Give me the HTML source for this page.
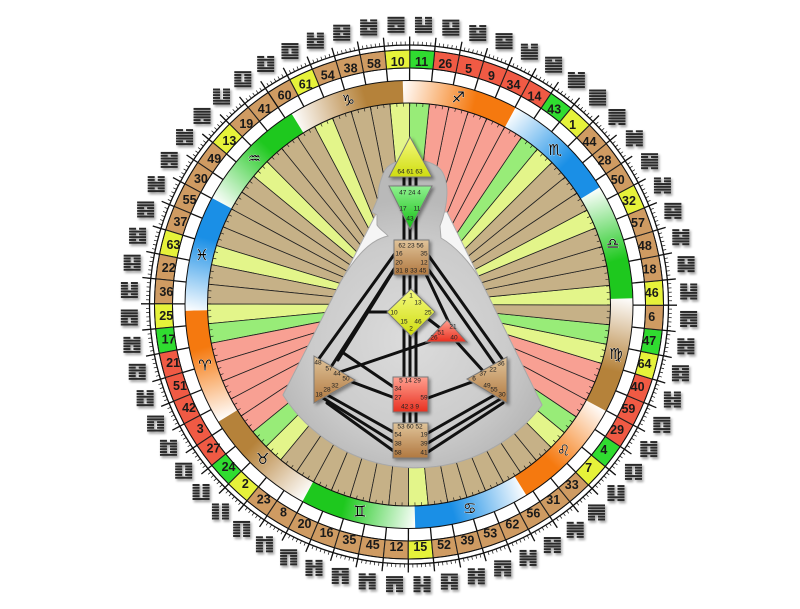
<!DOCTYPE html>
<html><head><meta charset="utf-8">
<style>
html,body{margin:0;padding:0;background:#fff;}
svg{display:block;}
.wB{fill:#c6b187}.wY{fill:#e3f58a}.wG{fill:#98ec78}.wR{fill:#f8a093}
.cB{fill:#cf9b62}.cY{fill:#e6f23a}.cG{fill:#30dc30}.cR{fill:#f05a44}
.w{stroke:#222;stroke-width:.8}
.c{stroke:#222;stroke-width:.9}
.n{font-family:"Liberation Sans",sans-serif;font-weight:bold;font-size:12.5px;fill:#1a1a1a;text-anchor:middle;dominant-baseline:central}
.z{font-family:"DejaVu Sans",sans-serif;font-size:15px;fill:#000;text-anchor:middle;dominant-baseline:central;stroke:#fff;stroke-width:.6;paint-order:stroke}
.b{font-family:"Liberation Sans",sans-serif;font-size:6.5px;fill:#222;text-anchor:middle;dominant-baseline:central}
.ch{stroke:#111;stroke-width:3;stroke-linecap:round;fill:none}
</style></head><body>
<svg width="800" height="609" viewBox="0 0 800 609" xmlns="http://www.w3.org/2000/svg">
<defs>
<path id="w" class="w" d="M409,304.5 L399.11,103.24 A201.5,201.5 0 0,1 418.89,103.24 Z"/>
<path id="c" class="c" d="M396.51,50.31 A254.5,254.5 0 0,1 421.49,50.31 L420.6,68.28 A236.5,236.5 0 0,0 397.4,68.28 Z"/>
<line id="s" x1="398.01" y1="80.77" x2="395.85" y2="36.82" stroke="#111" stroke-width="1.3"/>
<rect id="ya" width="17" height="2" fill="#2a2a2a"/>
<g id="yi" fill="#2a2a2a"><rect width="7" height="2"/><rect x="10" width="7" height="2"/></g>
<g id="tQ"><use href="#ya"/><use href="#ya" y="2.8"/><use href="#ya" y="5.6"/></g>
<g id="tD"><use href="#yi"/><use href="#ya" y="2.8"/><use href="#ya" y="5.6"/></g>
<g id="tL"><use href="#ya"/><use href="#yi" y="2.8"/><use href="#ya" y="5.6"/></g>
<g id="tZ"><use href="#yi"/><use href="#yi" y="2.8"/><use href="#ya" y="5.6"/></g>
<g id="tX"><use href="#ya"/><use href="#ya" y="2.8"/><use href="#yi" y="5.6"/></g>
<g id="tK"><use href="#yi"/><use href="#ya" y="2.8"/><use href="#yi" y="5.6"/></g>
<g id="tG"><use href="#ya"/><use href="#yi" y="2.8"/><use href="#yi" y="5.6"/></g>
<g id="tN"><use href="#yi"/><use href="#yi" y="2.8"/><use href="#yi" y="5.6"/></g>
<filter id="hs" x="-50%" y="-50%" width="200%" height="200%"><feDropShadow dx="1.5" dy="2" stdDeviation="1.3" flood-color="#000" flood-opacity=".45"/></filter>
<filter id="cs" x="-30%" y="-30%" width="160%" height="160%"><feDropShadow dx="2" dy="2" stdDeviation="1.5" flood-color="#000" flood-opacity=".4"/></filter>
<linearGradient id="zF" gradientUnits="userSpaceOnUse" x1="351" y1="0" x2="467" y2="0"><stop offset="0" stop-color="#fff"/><stop offset=".65" stop-color="#f5790f"/></linearGradient>
<linearGradient id="zE" gradientUnits="userSpaceOnUse" x1="351" y1="0" x2="467" y2="0"><stop offset="0" stop-color="#fff"/><stop offset=".65" stop-color="#b5823a"/></linearGradient>
<linearGradient id="zA" gradientUnits="userSpaceOnUse" x1="351" y1="0" x2="467" y2="0"><stop offset="0" stop-color="#fff"/><stop offset=".65" stop-color="#1ec81e"/></linearGradient>
<linearGradient id="zW" gradientUnits="userSpaceOnUse" x1="351" y1="0" x2="467" y2="0"><stop offset="0" stop-color="#fff"/><stop offset=".65" stop-color="#1a8fe6"/></linearGradient>
<path id="zs" d="M351.02,88.13 A224,224 0 0,1 466.98,88.13 L461.15,109.87 A201.5,201.5 0 0,0 356.85,109.87 Z"/>
<radialGradient id="body" cx="410" cy="340" r="140" gradientUnits="userSpaceOnUse"><stop offset="0" stop-color="#dcdcdc"/><stop offset=".7" stop-color="#cbcbcb"/><stop offset="1" stop-color="#b9b9b9"/></radialGradient>
<linearGradient id="gY" x1="0" y1="0" x2="0" y2="1"><stop offset="0" stop-color="#f4fa80"/><stop offset="1" stop-color="#cfdc10"/></linearGradient>
<linearGradient id="gG" x1="0" y1="0" x2="0" y2="1"><stop offset="0" stop-color="#90f090"/><stop offset="1" stop-color="#12c012"/></linearGradient>
<linearGradient id="gB" x1="0" y1="0" x2="0" y2="1"><stop offset="0" stop-color="#e0c49a"/><stop offset="1" stop-color="#b07840"/></linearGradient>
<linearGradient id="gR" x1="0" y1="0" x2="0" y2="1"><stop offset="0" stop-color="#ffa090"/><stop offset="1" stop-color="#e83020"/></linearGradient>
</defs>
<rect width="800" height="609" fill="#fff"/>

<!-- gates -->
<g transform="rotate(-36.4125 409 304.5)"><use href="#w" class="wB"/><use href="#c" class="cB"/><use href="#s"/><text class="n" transform="rotate(36.4125 409 61.5)" x="409" y="61.5">41</text><g transform="rotate(36.4125 409 24.5)" filter="url(#hs)"><use href="#tG" x="400.5" y="16.5"/><use href="#tD" x="400.5" y="24.9"/></g></g>
<g transform="rotate(-42.0375 409 304.5)"><use href="#w" class="wB"/><use href="#c" class="cB"/><use href="#s"/><text class="n" transform="rotate(42.0375 409 61.5)" x="409" y="61.5">19</text><g transform="rotate(42.0375 409 24.5)" filter="url(#hs)"><use href="#tN" x="400.5" y="16.5"/><use href="#tD" x="400.5" y="24.9"/></g></g>
<g transform="rotate(-47.6625 409 304.5)"><use href="#w" class="wY"/><use href="#c" class="cY"/><use href="#s"/><text class="n" transform="rotate(47.6625 409 61.5)" x="409" y="61.5">13</text><g transform="rotate(47.6625 409 24.5)" filter="url(#hs)"><use href="#tQ" x="400.5" y="16.5"/><use href="#tL" x="400.5" y="24.9"/></g></g>
<g transform="rotate(-53.2875 409 304.5)"><use href="#w" class="wB"/><use href="#c" class="cB"/><use href="#s"/><text class="n" transform="rotate(53.2875 409 61.5)" x="409" y="61.5">49</text><g transform="rotate(53.2875 409 24.5)" filter="url(#hs)"><use href="#tD" x="400.5" y="16.5"/><use href="#tL" x="400.5" y="24.9"/></g></g>
<g transform="rotate(-58.9125 409 304.5)"><use href="#w" class="wB"/><use href="#c" class="cB"/><use href="#s"/><text class="n" transform="rotate(58.9125 409 61.5)" x="409" y="61.5">30</text><g transform="rotate(58.9125 409 24.5)" filter="url(#hs)"><use href="#tL" x="400.5" y="16.5"/><use href="#tL" x="400.5" y="24.9"/></g></g>
<g transform="rotate(-64.5375 409 304.5)"><use href="#w" class="wB"/><use href="#c" class="cB"/><use href="#s"/><text class="n" transform="rotate(64.5375 409 61.5)" x="409" y="61.5">55</text><g transform="rotate(64.5375 409 24.5)" filter="url(#hs)"><use href="#tZ" x="400.5" y="16.5"/><use href="#tL" x="400.5" y="24.9"/></g></g>
<g transform="rotate(-70.1625 409 304.5)"><use href="#w" class="wB"/><use href="#c" class="cB"/><use href="#s"/><text class="n" transform="rotate(70.1625 409 61.5)" x="409" y="61.5">37</text><g transform="rotate(70.1625 409 24.5)" filter="url(#hs)"><use href="#tX" x="400.5" y="16.5"/><use href="#tL" x="400.5" y="24.9"/></g></g>
<g transform="rotate(-75.7875 409 304.5)"><use href="#w" class="wY"/><use href="#c" class="cY"/><use href="#s"/><text class="n" transform="rotate(75.7875 409 61.5)" x="409" y="61.5">63</text><g transform="rotate(75.7875 409 24.5)" filter="url(#hs)"><use href="#tK" x="400.5" y="16.5"/><use href="#tL" x="400.5" y="24.9"/></g></g>
<g transform="rotate(-81.4125 409 304.5)"><use href="#w" class="wB"/><use href="#c" class="cB"/><use href="#s"/><text class="n" transform="rotate(81.4125 409 61.5)" x="409" y="61.5">22</text><g transform="rotate(81.4125 409 24.5)" filter="url(#hs)"><use href="#tG" x="400.5" y="16.5"/><use href="#tL" x="400.5" y="24.9"/></g></g>
<g transform="rotate(-87.0375 409 304.5)"><use href="#w" class="wB"/><use href="#c" class="cB"/><use href="#s"/><text class="n" transform="rotate(87.0375 409 61.5)" x="409" y="61.5">36</text><g transform="rotate(87.0375 409 24.5)" filter="url(#hs)"><use href="#tN" x="400.5" y="16.5"/><use href="#tL" x="400.5" y="24.9"/></g></g>
<g transform="rotate(-92.6625 409 304.5)"><use href="#w" class="wY"/><use href="#c" class="cY"/><use href="#s"/><text class="n" transform="rotate(92.6625 409 61.5)" x="409" y="61.5">25</text><g transform="rotate(92.6625 409 24.5)" filter="url(#hs)"><use href="#tQ" x="400.5" y="16.5"/><use href="#tZ" x="400.5" y="24.9"/></g></g>
<g transform="rotate(-98.2875 409 304.5)"><use href="#w" class="wG"/><use href="#c" class="cG"/><use href="#s"/><text class="n" transform="rotate(98.2875 409 61.5)" x="409" y="61.5">17</text><g transform="rotate(98.2875 409 24.5)" filter="url(#hs)"><use href="#tD" x="400.5" y="16.5"/><use href="#tZ" x="400.5" y="24.9"/></g></g>
<g transform="rotate(-103.9125 409 304.5)"><use href="#w" class="wR"/><use href="#c" class="cR"/><use href="#s"/><text class="n" transform="rotate(103.9125 409 61.5)" x="409" y="61.5">21</text><g transform="rotate(103.9125 409 24.5)" filter="url(#hs)"><use href="#tL" x="400.5" y="16.5"/><use href="#tZ" x="400.5" y="24.9"/></g></g>
<g transform="rotate(-109.5375 409 304.5)"><use href="#w" class="wR"/><use href="#c" class="cR"/><use href="#s"/><text class="n" transform="rotate(109.5375 409 61.5)" x="409" y="61.5">51</text><g transform="rotate(109.5375 409 24.5)" filter="url(#hs)"><use href="#tZ" x="400.5" y="16.5"/><use href="#tZ" x="400.5" y="24.9"/></g></g>
<g transform="rotate(-115.1625 409 304.5)"><use href="#w" class="wR"/><use href="#c" class="cR"/><use href="#s"/><text class="n" transform="rotate(115.1625 409 61.5)" x="409" y="61.5">42</text><g transform="rotate(115.1625 409 24.5)" filter="url(#hs)"><use href="#tX" x="400.5" y="16.5"/><use href="#tZ" x="400.5" y="24.9"/></g></g>
<g transform="rotate(-120.7875 409 304.5)"><use href="#w" class="wR"/><use href="#c" class="cR"/><use href="#s"/><text class="n" transform="rotate(120.7875 409 61.5)" x="409" y="61.5">3</text><g transform="rotate(120.7875 409 24.5)" filter="url(#hs)"><use href="#tK" x="400.5" y="16.5"/><use href="#tZ" x="400.5" y="24.9"/></g></g>
<g transform="rotate(-126.4125 409 304.5)"><use href="#w" class="wR"/><use href="#c" class="cR"/><use href="#s"/><text class="n" transform="rotate(126.4125 409 61.5)" x="409" y="61.5">27</text><g transform="rotate(126.4125 409 24.5)" filter="url(#hs)"><use href="#tG" x="400.5" y="16.5"/><use href="#tZ" x="400.5" y="24.9"/></g></g>
<g transform="rotate(-132.0375 409 304.5)"><use href="#w" class="wG"/><use href="#c" class="cG"/><use href="#s"/><text class="n" transform="rotate(132.0375 409 61.5)" x="409" y="61.5">24</text><g transform="rotate(132.0375 409 24.5)" filter="url(#hs)"><use href="#tN" x="400.5" y="16.5"/><use href="#tZ" x="400.5" y="24.9"/></g></g>
<g transform="rotate(-137.6625 409 304.5)"><use href="#w" class="wY"/><use href="#c" class="cY"/><use href="#s"/><text class="n" transform="rotate(137.6625 409 61.5)" x="409" y="61.5">2</text><g transform="rotate(137.6625 409 24.5)" filter="url(#hs)"><use href="#tN" x="400.5" y="16.5"/><use href="#tN" x="400.5" y="24.9"/></g></g>
<g transform="rotate(-143.2875 409 304.5)"><use href="#w" class="wB"/><use href="#c" class="cB"/><use href="#s"/><text class="n" transform="rotate(143.2875 409 61.5)" x="409" y="61.5">23</text><g transform="rotate(143.2875 409 24.5)" filter="url(#hs)"><use href="#tG" x="400.5" y="16.5"/><use href="#tN" x="400.5" y="24.9"/></g></g>
<g transform="rotate(-148.9125 409 304.5)"><use href="#w" class="wB"/><use href="#c" class="cB"/><use href="#s"/><text class="n" transform="rotate(148.9125 409 61.5)" x="409" y="61.5">8</text><g transform="rotate(148.9125 409 24.5)" filter="url(#hs)"><use href="#tK" x="400.5" y="16.5"/><use href="#tN" x="400.5" y="24.9"/></g></g>
<g transform="rotate(-154.5375 409 304.5)"><use href="#w" class="wB"/><use href="#c" class="cB"/><use href="#s"/><text class="n" transform="rotate(154.5375 409 61.5)" x="409" y="61.5">20</text><g transform="rotate(154.5375 409 24.5)" filter="url(#hs)"><use href="#tX" x="400.5" y="16.5"/><use href="#tN" x="400.5" y="24.9"/></g></g>
<g transform="rotate(-160.1625 409 304.5)"><use href="#w" class="wB"/><use href="#c" class="cB"/><use href="#s"/><text class="n" transform="rotate(160.1625 409 61.5)" x="409" y="61.5">16</text><g transform="rotate(160.1625 409 24.5)" filter="url(#hs)"><use href="#tZ" x="400.5" y="16.5"/><use href="#tN" x="400.5" y="24.9"/></g></g>
<g transform="rotate(-165.7875 409 304.5)"><use href="#w" class="wB"/><use href="#c" class="cB"/><use href="#s"/><text class="n" transform="rotate(165.7875 409 61.5)" x="409" y="61.5">35</text><g transform="rotate(165.7875 409 24.5)" filter="url(#hs)"><use href="#tL" x="400.5" y="16.5"/><use href="#tN" x="400.5" y="24.9"/></g></g>
<g transform="rotate(-171.4125 409 304.5)"><use href="#w" class="wB"/><use href="#c" class="cB"/><use href="#s"/><text class="n" transform="rotate(171.4125 409 61.5)" x="409" y="61.5">45</text><g transform="rotate(171.4125 409 24.5)" filter="url(#hs)"><use href="#tD" x="400.5" y="16.5"/><use href="#tN" x="400.5" y="24.9"/></g></g>
<g transform="rotate(-177.0375 409 304.5)"><use href="#w" class="wB"/><use href="#c" class="cB"/><use href="#s"/><text class="n" transform="rotate(177.0375 409 61.5)" x="409" y="61.5">12</text><g transform="rotate(177.0375 409 24.5)" filter="url(#hs)"><use href="#tQ" x="400.5" y="16.5"/><use href="#tN" x="400.5" y="24.9"/></g></g>
<g transform="rotate(177.3375 409 304.5)"><use href="#w" class="wY"/><use href="#c" class="cY"/><use href="#s"/><text class="n" transform="rotate(-177.3375 409 61.5)" x="409" y="61.5">15</text><g transform="rotate(-177.3375 409 24.5)" filter="url(#hs)"><use href="#tN" x="400.5" y="16.5"/><use href="#tG" x="400.5" y="24.9"/></g></g>
<g transform="rotate(171.7125 409 304.5)"><use href="#w" class="wB"/><use href="#c" class="cB"/><use href="#s"/><text class="n" transform="rotate(-171.7125 409 61.5)" x="409" y="61.5">52</text><g transform="rotate(-171.7125 409 24.5)" filter="url(#hs)"><use href="#tG" x="400.5" y="16.5"/><use href="#tG" x="400.5" y="24.9"/></g></g>
<g transform="rotate(166.0875 409 304.5)"><use href="#w" class="wB"/><use href="#c" class="cB"/><use href="#s"/><text class="n" transform="rotate(-166.0875 409 61.5)" x="409" y="61.5">39</text><g transform="rotate(-166.0875 409 24.5)" filter="url(#hs)"><use href="#tK" x="400.5" y="16.5"/><use href="#tG" x="400.5" y="24.9"/></g></g>
<g transform="rotate(160.4625 409 304.5)"><use href="#w" class="wB"/><use href="#c" class="cB"/><use href="#s"/><text class="n" transform="rotate(-160.4625 409 61.5)" x="409" y="61.5">53</text><g transform="rotate(-160.4625 409 24.5)" filter="url(#hs)"><use href="#tX" x="400.5" y="16.5"/><use href="#tG" x="400.5" y="24.9"/></g></g>
<g transform="rotate(154.8375 409 304.5)"><use href="#w" class="wB"/><use href="#c" class="cB"/><use href="#s"/><text class="n" transform="rotate(-154.8375 409 61.5)" x="409" y="61.5">62</text><g transform="rotate(-154.8375 409 24.5)" filter="url(#hs)"><use href="#tZ" x="400.5" y="16.5"/><use href="#tG" x="400.5" y="24.9"/></g></g>
<g transform="rotate(149.2125 409 304.5)"><use href="#w" class="wB"/><use href="#c" class="cB"/><use href="#s"/><text class="n" transform="rotate(-149.2125 409 61.5)" x="409" y="61.5">56</text><g transform="rotate(-149.2125 409 24.5)" filter="url(#hs)"><use href="#tL" x="400.5" y="16.5"/><use href="#tG" x="400.5" y="24.9"/></g></g>
<g transform="rotate(143.5875 409 304.5)"><use href="#w" class="wB"/><use href="#c" class="cB"/><use href="#s"/><text class="n" transform="rotate(-143.5875 409 61.5)" x="409" y="61.5">31</text><g transform="rotate(-143.5875 409 24.5)" filter="url(#hs)"><use href="#tD" x="400.5" y="16.5"/><use href="#tG" x="400.5" y="24.9"/></g></g>
<g transform="rotate(137.9625 409 304.5)"><use href="#w" class="wB"/><use href="#c" class="cB"/><use href="#s"/><text class="n" transform="rotate(-137.9625 409 61.5)" x="409" y="61.5">33</text><g transform="rotate(-137.9625 409 24.5)" filter="url(#hs)"><use href="#tQ" x="400.5" y="16.5"/><use href="#tG" x="400.5" y="24.9"/></g></g>
<g transform="rotate(132.3375 409 304.5)"><use href="#w" class="wY"/><use href="#c" class="cY"/><use href="#s"/><text class="n" transform="rotate(-132.3375 409 61.5)" x="409" y="61.5">7</text><g transform="rotate(-132.3375 409 24.5)" filter="url(#hs)"><use href="#tN" x="400.5" y="16.5"/><use href="#tK" x="400.5" y="24.9"/></g></g>
<g transform="rotate(126.7125 409 304.5)"><use href="#w" class="wG"/><use href="#c" class="cG"/><use href="#s"/><text class="n" transform="rotate(-126.7125 409 61.5)" x="409" y="61.5">4</text><g transform="rotate(-126.7125 409 24.5)" filter="url(#hs)"><use href="#tG" x="400.5" y="16.5"/><use href="#tK" x="400.5" y="24.9"/></g></g>
<g transform="rotate(121.0875 409 304.5)"><use href="#w" class="wR"/><use href="#c" class="cR"/><use href="#s"/><text class="n" transform="rotate(-121.0875 409 61.5)" x="409" y="61.5">29</text><g transform="rotate(-121.0875 409 24.5)" filter="url(#hs)"><use href="#tK" x="400.5" y="16.5"/><use href="#tK" x="400.5" y="24.9"/></g></g>
<g transform="rotate(115.4625 409 304.5)"><use href="#w" class="wR"/><use href="#c" class="cR"/><use href="#s"/><text class="n" transform="rotate(-115.4625 409 61.5)" x="409" y="61.5">59</text><g transform="rotate(-115.4625 409 24.5)" filter="url(#hs)"><use href="#tX" x="400.5" y="16.5"/><use href="#tK" x="400.5" y="24.9"/></g></g>
<g transform="rotate(109.8375 409 304.5)"><use href="#w" class="wR"/><use href="#c" class="cR"/><use href="#s"/><text class="n" transform="rotate(-109.8375 409 61.5)" x="409" y="61.5">40</text><g transform="rotate(-109.8375 409 24.5)" filter="url(#hs)"><use href="#tZ" x="400.5" y="16.5"/><use href="#tK" x="400.5" y="24.9"/></g></g>
<g transform="rotate(104.2125 409 304.5)"><use href="#w" class="wY"/><use href="#c" class="cY"/><use href="#s"/><text class="n" transform="rotate(-104.2125 409 61.5)" x="409" y="61.5">64</text><g transform="rotate(-104.2125 409 24.5)" filter="url(#hs)"><use href="#tL" x="400.5" y="16.5"/><use href="#tK" x="400.5" y="24.9"/></g></g>
<g transform="rotate(98.5875 409 304.5)"><use href="#w" class="wG"/><use href="#c" class="cG"/><use href="#s"/><text class="n" transform="rotate(-98.5875 409 61.5)" x="409" y="61.5">47</text><g transform="rotate(-98.5875 409 24.5)" filter="url(#hs)"><use href="#tD" x="400.5" y="16.5"/><use href="#tK" x="400.5" y="24.9"/></g></g>
<g transform="rotate(92.9625 409 304.5)"><use href="#w" class="wB"/><use href="#c" class="cB"/><use href="#s"/><text class="n" transform="rotate(-92.9625 409 61.5)" x="409" y="61.5">6</text><g transform="rotate(-92.9625 409 24.5)" filter="url(#hs)"><use href="#tQ" x="400.5" y="16.5"/><use href="#tK" x="400.5" y="24.9"/></g></g>
<g transform="rotate(87.3375 409 304.5)"><use href="#w" class="wY"/><use href="#c" class="cY"/><use href="#s"/><text class="n" transform="rotate(-87.3375 409 61.5)" x="409" y="61.5">46</text><g transform="rotate(-87.3375 409 24.5)" filter="url(#hs)"><use href="#tN" x="400.5" y="16.5"/><use href="#tX" x="400.5" y="24.9"/></g></g>
<g transform="rotate(81.7125 409 304.5)"><use href="#w" class="wB"/><use href="#c" class="cB"/><use href="#s"/><text class="n" transform="rotate(-81.7125 409 61.5)" x="409" y="61.5">18</text><g transform="rotate(-81.7125 409 24.5)" filter="url(#hs)"><use href="#tG" x="400.5" y="16.5"/><use href="#tX" x="400.5" y="24.9"/></g></g>
<g transform="rotate(76.0875 409 304.5)"><use href="#w" class="wB"/><use href="#c" class="cB"/><use href="#s"/><text class="n" transform="rotate(-76.0875 409 61.5)" x="409" y="61.5">48</text><g transform="rotate(-76.0875 409 24.5)" filter="url(#hs)"><use href="#tK" x="400.5" y="16.5"/><use href="#tX" x="400.5" y="24.9"/></g></g>
<g transform="rotate(70.4625 409 304.5)"><use href="#w" class="wB"/><use href="#c" class="cB"/><use href="#s"/><text class="n" transform="rotate(-70.4625 409 61.5)" x="409" y="61.5">57</text><g transform="rotate(-70.4625 409 24.5)" filter="url(#hs)"><use href="#tX" x="400.5" y="16.5"/><use href="#tX" x="400.5" y="24.9"/></g></g>
<g transform="rotate(64.8375 409 304.5)"><use href="#w" class="wY"/><use href="#c" class="cY"/><use href="#s"/><text class="n" transform="rotate(-64.8375 409 61.5)" x="409" y="61.5">32</text><g transform="rotate(-64.8375 409 24.5)" filter="url(#hs)"><use href="#tZ" x="400.5" y="16.5"/><use href="#tX" x="400.5" y="24.9"/></g></g>
<g transform="rotate(59.2125 409 304.5)"><use href="#w" class="wB"/><use href="#c" class="cB"/><use href="#s"/><text class="n" transform="rotate(-59.2125 409 61.5)" x="409" y="61.5">50</text><g transform="rotate(-59.2125 409 24.5)" filter="url(#hs)"><use href="#tL" x="400.5" y="16.5"/><use href="#tX" x="400.5" y="24.9"/></g></g>
<g transform="rotate(53.5875 409 304.5)"><use href="#w" class="wB"/><use href="#c" class="cB"/><use href="#s"/><text class="n" transform="rotate(-53.5875 409 61.5)" x="409" y="61.5">28</text><g transform="rotate(-53.5875 409 24.5)" filter="url(#hs)"><use href="#tD" x="400.5" y="16.5"/><use href="#tX" x="400.5" y="24.9"/></g></g>
<g transform="rotate(47.9625 409 304.5)"><use href="#w" class="wB"/><use href="#c" class="cB"/><use href="#s"/><text class="n" transform="rotate(-47.9625 409 61.5)" x="409" y="61.5">44</text><g transform="rotate(-47.9625 409 24.5)" filter="url(#hs)"><use href="#tQ" x="400.5" y="16.5"/><use href="#tX" x="400.5" y="24.9"/></g></g>
<g transform="rotate(42.3375 409 304.5)"><use href="#w" class="wY"/><use href="#c" class="cY"/><use href="#s"/><text class="n" transform="rotate(-42.3375 409 61.5)" x="409" y="61.5">1</text><g transform="rotate(-42.3375 409 24.5)" filter="url(#hs)"><use href="#tQ" x="400.5" y="16.5"/><use href="#tQ" x="400.5" y="24.9"/></g></g>
<g transform="rotate(36.7125 409 304.5)"><use href="#w" class="wG"/><use href="#c" class="cG"/><use href="#s"/><text class="n" transform="rotate(-36.7125 409 61.5)" x="409" y="61.5">43</text><g transform="rotate(-36.7125 409 24.5)" filter="url(#hs)"><use href="#tD" x="400.5" y="16.5"/><use href="#tQ" x="400.5" y="24.9"/></g></g>
<g transform="rotate(31.0875 409 304.5)"><use href="#w" class="wR"/><use href="#c" class="cR"/><use href="#s"/><text class="n" transform="rotate(-31.0875 409 61.5)" x="409" y="61.5">14</text><g transform="rotate(-31.0875 409 24.5)" filter="url(#hs)"><use href="#tL" x="400.5" y="16.5"/><use href="#tQ" x="400.5" y="24.9"/></g></g>
<g transform="rotate(25.4625 409 304.5)"><use href="#w" class="wR"/><use href="#c" class="cR"/><use href="#s"/><text class="n" transform="rotate(-25.4625 409 61.5)" x="409" y="61.5">34</text><g transform="rotate(-25.4625 409 24.5)" filter="url(#hs)"><use href="#tZ" x="400.5" y="16.5"/><use href="#tQ" x="400.5" y="24.9"/></g></g>
<g transform="rotate(19.8375 409 304.5)"><use href="#w" class="wR"/><use href="#c" class="cR"/><use href="#s"/><text class="n" transform="rotate(-19.8375 409 61.5)" x="409" y="61.5">9</text><g transform="rotate(-19.8375 409 24.5)" filter="url(#hs)"><use href="#tX" x="400.5" y="16.5"/><use href="#tQ" x="400.5" y="24.9"/></g></g>
<g transform="rotate(14.2125 409 304.5)"><use href="#w" class="wR"/><use href="#c" class="cR"/><use href="#s"/><text class="n" transform="rotate(-14.2125 409 61.5)" x="409" y="61.5">5</text><g transform="rotate(-14.2125 409 24.5)" filter="url(#hs)"><use href="#tK" x="400.5" y="16.5"/><use href="#tQ" x="400.5" y="24.9"/></g></g>
<g transform="rotate(8.5875 409 304.5)"><use href="#w" class="wR"/><use href="#c" class="cR"/><use href="#s"/><text class="n" transform="rotate(-8.5875 409 61.5)" x="409" y="61.5">26</text><g transform="rotate(-8.5875 409 24.5)" filter="url(#hs)"><use href="#tG" x="400.5" y="16.5"/><use href="#tQ" x="400.5" y="24.9"/></g></g>
<g transform="rotate(2.9625 409 304.5)"><use href="#w" class="wG"/><use href="#c" class="cG"/><use href="#s"/><text class="n" transform="rotate(-2.9625 409 61.5)" x="409" y="61.5">11</text><g transform="rotate(-2.9625 409 24.5)" filter="url(#hs)"><use href="#tN" x="400.5" y="16.5"/><use href="#tQ" x="400.5" y="24.9"/></g></g>
<g transform="rotate(-2.6625 409 304.5)"><use href="#w" class="wY"/><use href="#c" class="cY"/><use href="#s"/><text class="n" transform="rotate(2.6625 409 61.5)" x="409" y="61.5">10</text><g transform="rotate(2.6625 409 24.5)" filter="url(#hs)"><use href="#tQ" x="400.5" y="16.5"/><use href="#tD" x="400.5" y="24.9"/></g></g>
<g transform="rotate(-8.2875 409 304.5)"><use href="#w" class="wB"/><use href="#c" class="cB"/><use href="#s"/><text class="n" transform="rotate(8.2875 409 61.5)" x="409" y="61.5">58</text><g transform="rotate(8.2875 409 24.5)" filter="url(#hs)"><use href="#tD" x="400.5" y="16.5"/><use href="#tD" x="400.5" y="24.9"/></g></g>
<g transform="rotate(-13.9125 409 304.5)"><use href="#w" class="wB"/><use href="#c" class="cB"/><use href="#s"/><text class="n" transform="rotate(13.9125 409 61.5)" x="409" y="61.5">38</text><g transform="rotate(13.9125 409 24.5)" filter="url(#hs)"><use href="#tL" x="400.5" y="16.5"/><use href="#tD" x="400.5" y="24.9"/></g></g>
<g transform="rotate(-19.5375 409 304.5)"><use href="#w" class="wB"/><use href="#c" class="cB"/><use href="#s"/><text class="n" transform="rotate(19.5375 409 61.5)" x="409" y="61.5">54</text><g transform="rotate(19.5375 409 24.5)" filter="url(#hs)"><use href="#tZ" x="400.5" y="16.5"/><use href="#tD" x="400.5" y="24.9"/></g></g>
<g transform="rotate(-25.1625 409 304.5)"><use href="#w" class="wY"/><use href="#c" class="cY"/><use href="#s"/><text class="n" transform="rotate(25.1625 409 61.5)" x="409" y="61.5">61</text><g transform="rotate(25.1625 409 24.5)" filter="url(#hs)"><use href="#tX" x="400.5" y="16.5"/><use href="#tD" x="400.5" y="24.9"/></g></g>
<g transform="rotate(-30.7875 409 304.5)"><use href="#w" class="wB"/><use href="#c" class="cB"/><use href="#s"/><text class="n" transform="rotate(30.7875 409 61.5)" x="409" y="61.5">60</text><g transform="rotate(30.7875 409 24.5)" filter="url(#hs)"><use href="#tK" x="400.5" y="16.5"/><use href="#tD" x="400.5" y="24.9"/></g></g>

<!-- zodiac ring -->
<g transform="rotate(-106.6 409 304.5)"><use href="#zs" fill="url(#zF)"/><text class="z" transform="rotate(106.6 409 91.75)" x="409" y="91.75">♈&#xFE0E;</text></g>
<g transform="rotate(-136.6 409 304.5)"><use href="#zs" fill="url(#zE)"/><text class="z" transform="rotate(136.6 409 91.75)" x="409" y="91.75">♉&#xFE0E;</text></g>
<g transform="rotate(-166.6 409 304.5)"><use href="#zs" fill="url(#zA)"/><text class="z" transform="rotate(166.6 409 91.75)" x="409" y="91.75">♊&#xFE0E;</text></g>
<g transform="rotate(163.4 409 304.5)"><use href="#zs" fill="url(#zW)"/><text class="z" transform="rotate(-163.4 409 91.75)" x="409" y="91.75">♋&#xFE0E;</text></g>
<g transform="rotate(133.4 409 304.5)"><use href="#zs" fill="url(#zF)"/><text class="z" transform="rotate(-133.4 409 91.75)" x="409" y="91.75">♌&#xFE0E;</text></g>
<g transform="rotate(103.4 409 304.5)"><use href="#zs" fill="url(#zE)"/><text class="z" transform="rotate(-103.4 409 91.75)" x="409" y="91.75">♍&#xFE0E;</text></g>
<g transform="rotate(73.4 409 304.5)"><use href="#zs" fill="url(#zA)"/><text class="z" transform="rotate(-73.4 409 91.75)" x="409" y="91.75">♎&#xFE0E;</text></g>
<g transform="rotate(43.4 409 304.5)"><use href="#zs" fill="url(#zW)"/><text class="z" transform="rotate(-43.4 409 91.75)" x="409" y="91.75">♏&#xFE0E;</text></g>
<g transform="rotate(13.4 409 304.5)"><use href="#zs" fill="url(#zF)"/><text class="z" transform="rotate(-13.4 409 91.75)" x="409" y="91.75">♐&#xFE0E;</text></g>
<g transform="rotate(-16.6 409 304.5)"><use href="#zs" fill="url(#zE)"/><text class="z" transform="rotate(16.6 409 91.75)" x="409" y="91.75">♑&#xFE0E;</text></g>
<g transform="rotate(-46.6 409 304.5)"><use href="#zs" fill="url(#zA)"/><text class="z" transform="rotate(46.6 409 91.75)" x="409" y="91.75">♒&#xFE0E;</text></g>
<g transform="rotate(-76.6 409 304.5)"><use href="#zs" fill="url(#zW)"/><text class="z" transform="rotate(76.6 409 91.75)" x="409" y="91.75">♓&#xFE0E;</text></g>

<!-- circles and ticks -->
<g fill="none" stroke="#111">
<circle cx="409" cy="304.5" r="259.5" stroke-width="1.3"/>
<circle cx="409" cy="304.5" r="261.25" stroke-width="3.5" stroke-dasharray="0.7 3.5747"/>
<circle cx="409" cy="304.5" r="254.5" stroke-width="1"/>
<circle cx="409" cy="304.5" r="236.5" stroke-width="1"/>
<circle cx="409" cy="304.5" r="224" stroke-width="1"/>
<circle cx="409" cy="304.5" r="201.5" stroke-width="1"/>
<circle cx="409" cy="304.5" r="199.5" stroke-width="3" stroke-dasharray="0.6 5.93"/>
</g>

<!-- bodygraph silhouette -->
<path d="M377,212 L283,395 A158,158 0 0 0 542,405 L447,212 Z" fill="#f5f5f5" stroke="#b0b0b0" stroke-width="1"/>
<path d="M388,236 C370,240 356,256 341,281 L283,395 A158,158 0 0 0 542,405 L481,281 C470,262 455,246 441,238 L440,226 C448,206 450,182 441,170 C430,157 395,155 385,170 C380,180 378,190 378,198 L372,212 L377,215 L377,225 C380,230 385,232 388,236 Z" fill="url(#body)" stroke="#a8a8a8" stroke-width="1"/>

<!-- channels -->
<g class="ch">
<line x1="404" y1="177" x2="404" y2="423"/>
<line x1="410" y1="177" x2="410" y2="423"/>
<line x1="416" y1="177" x2="416" y2="423"/>
<line x1="396" y1="252" x2="318" y2="360"/>
<line x1="396" y1="266" x2="331" y2="367"/>
<line x1="426" y1="252" x2="503" y2="360"/>
<line x1="426" y1="266" x2="496" y2="366"/>
<line x1="424" y1="270" x2="450" y2="325"/>
<line x1="393" y1="312" x2="368" y2="312"/>
<line x1="368" y1="312" x2="394" y2="270"/>
<line x1="368" y1="312" x2="338" y2="360"/>
<line x1="342" y1="352" x2="395" y2="388"/>
<line x1="352" y1="382" x2="395" y2="398"/>
<line x1="340" y1="372" x2="440" y2="338"/>
<line x1="455" y1="340" x2="484" y2="372"/>
<line x1="427" y1="318" x2="440" y2="328"/>
<line x1="428" y1="398" x2="472" y2="382"/>
<line x1="322" y1="392" x2="395" y2="433"/>
<line x1="323" y1="398" x2="395" y2="443"/>
<line x1="327" y1="403" x2="395" y2="452"/>
<line x1="428" y1="433" x2="500" y2="392"/>
<line x1="428" y1="443" x2="502" y2="398"/>
<line x1="428" y1="452" x2="503" y2="403"/>
</g>

<!-- centers -->
<g filter="url(#cs)" stroke="#7a7a7a" stroke-width="1">
<polygon points="410,137 389,177 432,177" fill="url(#gY)"/>
<polygon points="389,186 432,186 410,229" fill="url(#gG)"/>
<rect x="394" y="240" width="35" height="35" fill="url(#gB)"/>
<polygon points="411,289 435,312 411,336 387,312" fill="url(#gY)"/>
<polygon points="447,320 467,342 426,342" fill="url(#gR)"/>
<polygon points="314,356 355,380 314,403" fill="url(#gB)"/>
<polygon points="507,357 467,379 507,403" fill="url(#gB)"/>
<rect x="393" y="377" width="35" height="35" fill="url(#gR)"/>
<rect x="393" y="423" width="35" height="35" fill="url(#gB)"/>
</g>

<g class="b">
<text x="410" y="172">64 61 63</text>
<text x="410" y="193">47 24 4</text>
<text x="403" y="209">17</text><text x="417" y="209">11</text>
<text x="410" y="219">43</text>
<text x="411" y="246">62 23 56</text>
<text x="399" y="254">16</text><text x="424" y="254">35</text>
<text x="399" y="263">20</text><text x="424" y="263">12</text>
<text x="411" y="271">31 8 33 45</text>
<text x="411" y="296">1</text>
<text x="404" y="303">7</text><text x="418" y="303">13</text>
<text x="394" y="313">10</text><text x="428" y="313">25</text>
<text x="404" y="322">15</text><text x="418" y="322">46</text>
<text x="411" y="329">2</text>
<text x="453" y="327">21</text><text x="441" y="333">51</text>
<text x="434" y="338">26</text><text x="454" y="338">40</text>
<text x="318" y="363">48</text><text x="329" y="369">57</text>
<text x="337" y="374">44</text><text x="346" y="379">50</text>
<text x="335" y="386">32</text><text x="327" y="390">28</text>
<text x="319" y="395">18</text>
<text x="501" y="364">36</text><text x="493" y="370">22</text>
<text x="483" y="374">37</text><text x="474" y="379">6</text>
<text x="487" y="386">49</text><text x="494" y="390">55</text>
<text x="502" y="395">30</text>
<text x="410" y="381">5 14 29</text>
<text x="398" y="389">34</text>
<text x="398" y="398">27</text><text x="424" y="398">59</text>
<text x="410" y="407">42 3 9</text>
<text x="410" y="427">53 60 52</text>
<text x="398" y="435">54</text><text x="424" y="435">19</text>
<text x="398" y="444">38</text><text x="424" y="444">39</text>
<text x="398" y="453">58</text><text x="424" y="453">41</text>
</g>
</svg>
</body></html>
